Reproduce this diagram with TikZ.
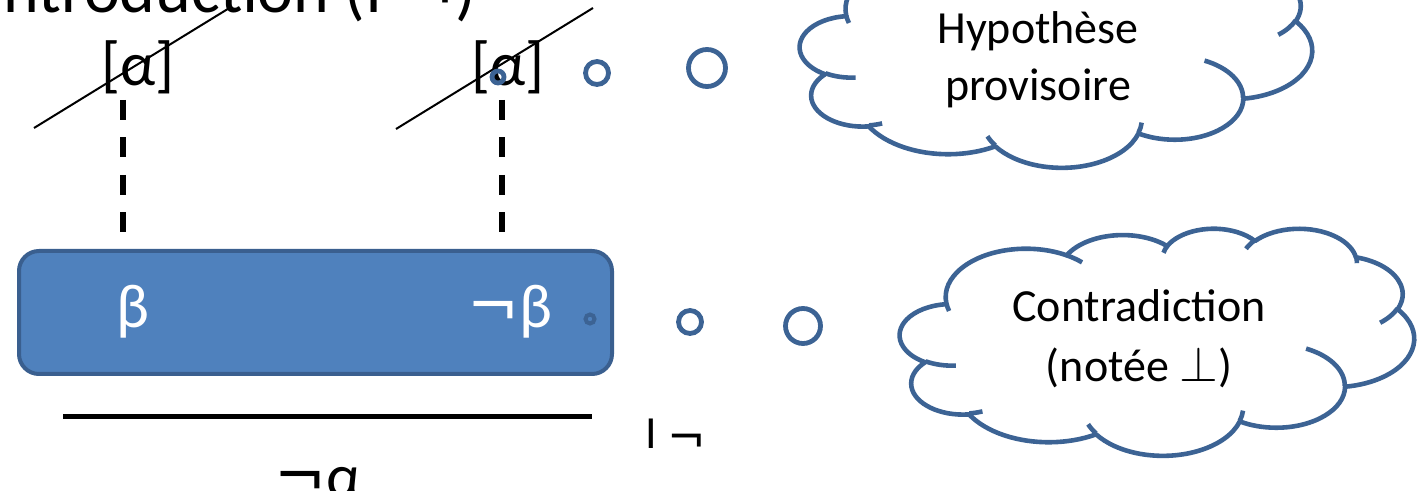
\documentclass[tikz,border=0pt]{standalone}
\usepackage{fontspec}
\setmainfont{Carlito}
\newfontfamily\symfont{DejaVu Sans}

\definecolor{boxfill}{HTML}{4F81BD}
\definecolor{boxline}{HTML}{3A5F8F}
\definecolor{bubbleline}{HTML}{3C6394}

% One lobe of the cloud outline: x radius, y radius, start angle and sweep,
% the angles being measured as seen (not parametric) on the ellipse.
\newcommand\cldarc[4]{%
  \pgfmathsetmacro\cldS{atan2((#1)*sin(#3),(#2)*cos(#3))}%
  \pgfmathsetmacro\cldE{atan2((#1)*sin((#3)+(#4)),(#2)*cos((#3)+(#4)))}%
  \pgfmathsetmacro\cldD{Mod(\cldE-\cldS-(#4)+540,360)-180+(#4)}%
  \pgfmathsetmacro\cldE{\cldS+\cldD}%
  \pgfpatharcaxes{\cldS}{\cldE}{\pgfpointxy{#1}{0}}{\pgfpointxy{0}{#2}}}

% Cloud in a 4320 x 4320 box: #1,#2 = top left corner, #3,#4 = units
\newcommand\drawcloud[4]{%
  \begin{scope}[shift={(#1,#2)}]
  \begin{scope}[x=#3,y=-#4]
  \begin{pgfscope}
    \pgfsetlinewidth{2.3pt}\pgfsetroundjoin
    \pgfsetstrokecolor{bubbleline}\pgfsetfillcolor{white}
    \pgfpathmoveto{\pgfpointxy{390}{1437}}%
    \cldarc{675.3}{919.0}{-190.4875}{123.7805}%
    \cldarc{533.3}{726.7}{-144.1024}{89.9452}%
    \cldarc{436.5}{594.5}{-145.8079}{99.7230}%
    \cldarc{485.7}{659.5}{-130.9861}{117.2417}%
    \cldarc{533.3}{727.3}{-78.7089}{109.0269}%
    \cldarc{677.5}{922.0}{-46.2673}{130.2690}%
    \cldarc{578.5}{786.7}{0.6250}{114.0333}%
    \cldarc{675.2}{921.5}{22.4516}{115.1726}%
    \cldarc{772.0}{1054.3}{66.2426}{75.7110}%
    \cldarc{436.0}{591.8}{-274.9421}{146.7356}%
    \cldarc{434.5}{594.5}{-246.8285}{152.5189}%
    \pgfpathclose
    \pgfusepath{fill,stroke}
    % inner folds of the puffs
    \pgfpathmoveto{\pgfpointxy{469.3}{2617.7}}\cldarc{434.5}{594.5}{86.742}{26.4295}%
    \pgfpathmoveto{\pgfpointxy{692.8}{3489.9}}\cldarc{436.0}{591.8}{73.6105}{11.4475}%
    \pgfpathmoveto{\pgfpointxy{1647.8}{3909.0}}\cldarc{675.2}{921.5}{137.6242}{14.0811}%
    \pgfpathmoveto{\pgfpointxy{2882.7}{3475.1}}\cldarc{675.2}{921.5}{6.4533}{15.9984}%
    \pgfpathmoveto{\pgfpointxy{3412.9}{2295.4}}\cldarc{578.5}{786.7}{-70.2924}{70.9174}%
    \pgfpathmoveto{\pgfpointxy{4179.8}{1535.4}}\cldarc{533.3}{727.3}{30.3180}{27.7515}%
    \pgfpathmoveto{\pgfpointxy{3832.4}{542.6}}\cldarc{485.7}{659.5}{-13.7443}{14.8589}%
    \pgfpathmoveto{\pgfpointxy{2907.8}{395.2}}\cldarc{485.7}{659.5}{-149.1815}{18.1954}%
    \pgfpathmoveto{\pgfpointxy{2214.1}{472.0}}\cldarc{436.5}{594.5}{-163.4943}{17.6864}%
    \pgfpathmoveto{\pgfpointxy{1400.0}{519.2}}\cldarc{675.3}{919.0}{-66.7070}{12.3194}%
    \pgfpathmoveto{\pgfpointxy{412.7}{1578.9}}\cldarc{675.3}{919.0}{157.6544}{11.8582}%
    \pgfusepath{stroke}
  \end{pgfscope}
  \end{scope}
  \end{scope}}

\begin{document}
\begin{tikzpicture}[x=0.5pt,y=-0.5pt,
  bigtext/.style={inner sep=0pt,anchor=base,font=\fontsize{31}{37}\selectfont},
  midtext/.style={inner sep=0pt,anchor=base,font=\fontsize{23}{28}\selectfont},
  dashline/.style={line width=3pt,dash pattern=on 10pt off 8.75pt},
  strike/.style={line width=1pt},
  bubble/.style={draw=bubbleline,line width=2.4pt},
  proofbox/.style={draw=boxline,fill=boxfill,line width=2pt,rounded corners=10pt,
    minimum width=296.5pt,minimum height=61.5pt,inner sep=0pt,anchor=north west}]
\useasboundingbox (0,0) rectangle (1418,491);
\clip (0,0) rectangle (1418,491);

% heading, cut by the top edge
\node[inner sep=0pt,anchor=base west,font=\fontsize{34}{40}\selectfont] (title)
  at (-14,13) {Introduction (I {\symfont ¬})};

% discharged hypotheses
\node[bigtext] (aL) at (138,86) {[α]};
\node[bigtext] (aR) at (508,86) {[α]};
\coordinate (sL1) at (34,128);  \coordinate (sL2) at (231,7);
\coordinate (sR1) at (396,129); \coordinate (sR2) at (593,8);
\draw[strike] (sL1) -- (sL2);
\draw[strike] (sR1) -- (sR2);

% sub-derivation
\node[proofbox] (box) at (17,249) {};
\node[bigtext,text=white] (b1) at (133,328) {β};
\node[bigtext,text=white] (b2) at (510,328) {{\symfont ¬}β};

\coordinate (dL1) at (123,100); \coordinate (dL2) at (123,232);
\coordinate (dR1) at (502,100); \coordinate (dR2) at (502,232);
\draw[dashline] (dL1) -- (dL2);
\draw[dashline] (dR1) -- (dR2);

% inference line and conclusion
\coordinate (r1) at (63,416); \coordinate (r2) at (592,416);
\draw[line width=2.5pt] (r1) -- (r2);
\node[bigtext] (concl) at (318,497) {{\symfont ¬}α};
\node[midtext] (rule) at (676,448) {I \raisebox{-2.5pt}{\symfont ¬}};

% thought bubbles
\draw[bubble] (498,77) circle[radius=6];
\draw[bubble] (597,73) circle[radius=11.5];
\draw[bubble] (707,68) circle[radius=18.5];
\drawcloud{800}{-60}{0.059259pt}{0.026273pt}
\node[midtext] (h1) at (1038,44) {Hypothèse};
\node[midtext] (h2) at (1038,101) {provisoire};

\draw[bubble,line width=2pt] (590,319) circle[radius=4.5];
\draw[bubble] (690,322) circle[radius=11.5];
\draw[bubble] (803,326) circle[radius=17.5];
\drawcloud{900}{228}{0.059491pt}{0.026273pt}
\node[midtext] (c1) at (1139,322) {Contradiction};
\node[midtext] (c2) at (1139,382) {(notée $\perp$)};
\end{tikzpicture}
\end{document}
